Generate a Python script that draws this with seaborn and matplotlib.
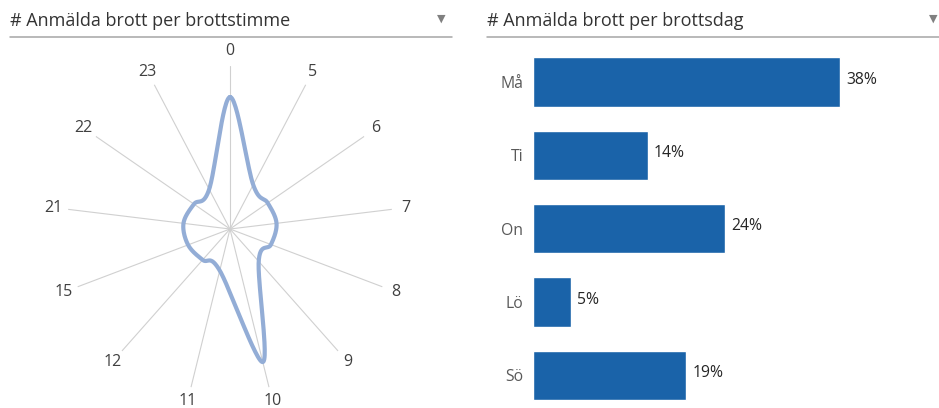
import numpy as np
import pandas as pd
import matplotlib
matplotlib.use('Agg')
import matplotlib.pyplot as plt
import seaborn as sns

# data
hours = ['0', '5', '6', '7', '8', '9', '10', '11', '12', '15', '21', '22', '23']
hour_counts = [25.9, 9.8, 9.0, 9.2, 8.6, 8.5, 26.9, 8.4, 8.1, 8.8, 9.2, 8.6, 8.8]
days = ['Må', 'Ti', 'On', 'Lö', 'Sö']
day_share = [37.9, 14.2, 23.7, 4.7, 18.9]

sns.set_theme(style='white')
plt.rcParams['font.family'] = ['Open Sans', 'DejaVu Sans']

fig = plt.figure(figsize=(9.39, 4.08), dpi=100)
W, H = 939, 408


def box(x0, y0, x1, y1):
    return [x0 / W, 1 - y1 / H, (x1 - x0) / W, (y1 - y0) / H]


# ---- radar (smoothed like excel) ----
ax1 = fig.add_axes(box(67, 66, 393, 392), projection='polar')
ax1.set_theta_zero_location('N')
ax1.set_theta_direction(-1)
n = len(hours)
ang = np.arange(n) * 2 * np.pi / n
r = np.array(hour_counts)
px = r * np.sin(ang)
py = r * np.cos(ang)

# closed catmull-rom spline through the points
sx, sy = [], []
for i in range(n):
    p0 = np.array([px[i - 1], py[i - 1]])
    p1 = np.array([px[i], py[i]])
    p2 = np.array([px[(i + 1) % n], py[(i + 1) % n]])
    p3 = np.array([px[(i + 2) % n], py[(i + 2) % n]])
    c1 = p1 + (p2 - p0) / 6
    c2 = p2 - (p3 - p1) / 6
    t = np.linspace(0, 1, 30)[:, None]
    pts = (1 - t) ** 3 * p1 + 3 * (1 - t) ** 2 * t * c1 + 3 * (1 - t) * t ** 2 * c2 + t ** 3 * p2
    sx.extend(pts[:, 0])
    sy.extend(pts[:, 1])
sx, sy = np.array(sx), np.array(sy)
curve = pd.DataFrame({'theta': np.unwrap(np.arctan2(sx, sy)), 'r': np.hypot(sx, sy)})
sns.lineplot(data=curve, x='theta', y='r', sort=False, estimator=None,
             color='#93add6', linewidth=3.0, ax=ax1)

ax1.set_ylim(0, 32)
ax1.set_xticks(ang)
ax1.set_xticklabels(hours, fontsize=11.5, color='#404040')
ax1.tick_params(axis='x', pad=3.5, length=0)
ax1.set_yticks([])
ax1.xaxis.grid(True, color='#d0d0d0', linewidth=0.8)
ax1.yaxis.grid(False)
ax1.spines['polar'].set_visible(False)
ax1.set_xlabel('')
ax1.set_ylabel('')
ax1.set_facecolor('none')

# ---- bars ----
ax2 = fig.add_axes(box(533, 45.3, 938, 412))
sns.barplot(x=day_share, y=days, color='#1a63a9', width=0.67, saturation=1, ax=ax2, orient='h')
ax2.set_xlim(0, 50)
ax2.set_ylim(4.5, -0.5)
ax2.set_xticks([])
for s in ax2.spines.values():
    s.set_visible(False)
ax2.tick_params(axis='y', length=0, pad=7, labelsize=11.3, labelcolor='#595959')
for i, v in enumerate(day_share):
    ax2.text(v + 0.75, i - 0.03, f'{round(v)}%', va='center', ha='left', fontsize=11.3, color='#262626')

# ---- headers ----
fig.text(10 / W, 1 - 21 / H, '# Anmälda brott per brottstimme', fontsize=13, color='#333333', va='center', ha='left')
fig.text(487 / W, 1 - 21 / H, '# Anmälda brott per brottsdag', fontsize=13, color='#333333', va='center', ha='left')
fig.add_artist(plt.Line2D([10 / W, 452 / W], [1 - 37 / H] * 2, color='#a6a6a6', linewidth=1.1))
fig.add_artist(plt.Line2D([487 / W, 1.0], [1 - 37 / H] * 2, color='#a6a6a6', linewidth=1.1))
fig.text(441 / W, 1 - 19 / H, '▼', fontsize=8, color='#808080', va='center', ha='center', family='DejaVu Sans')
fig.text(933 / W, 1 - 19 / H, '▼', fontsize=8, color='#808080', va='center', ha='center', family='DejaVu Sans')

fig.savefig('out.png', dpi=100, facecolor='white')
